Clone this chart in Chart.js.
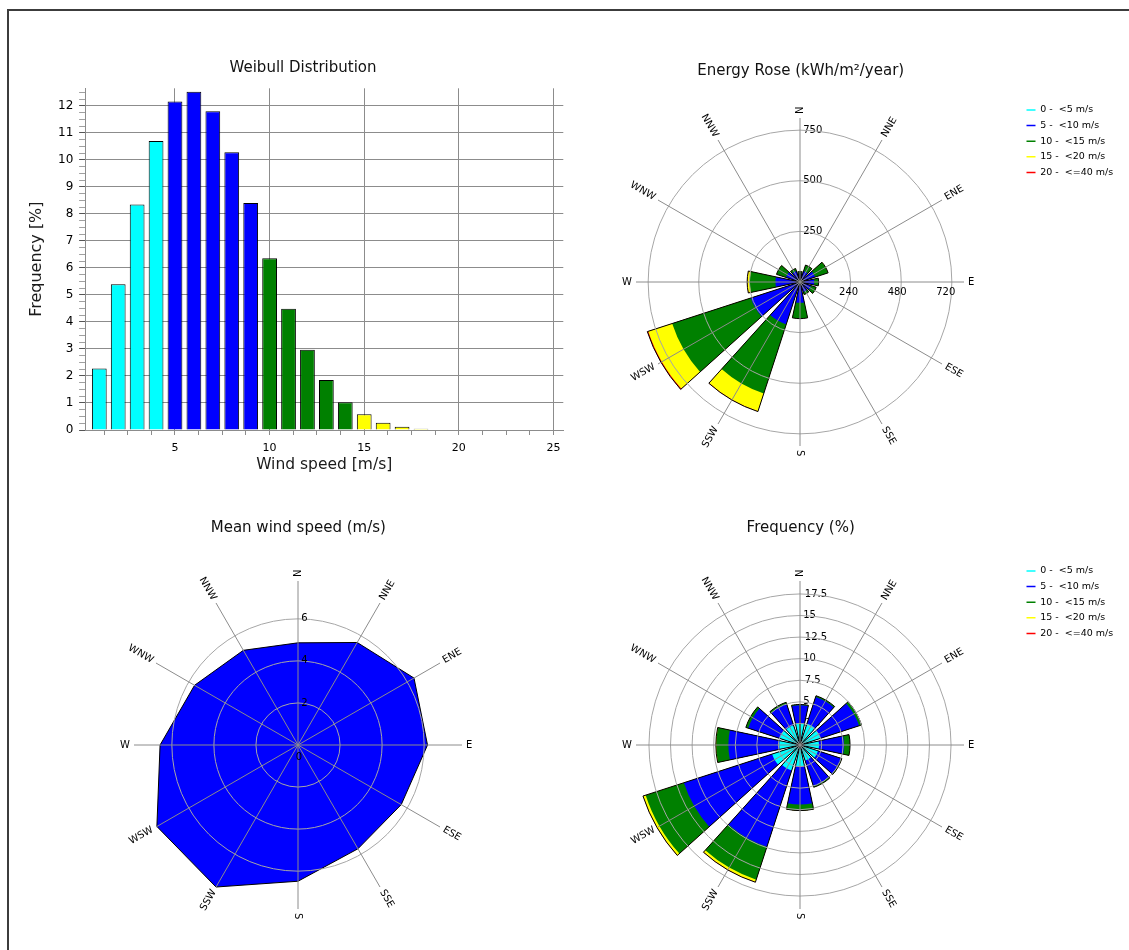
<!DOCTYPE html>
<html>
<head>
<meta charset="utf-8">
<title>Wind resource at site</title>
<script src="https://cdn.jsdelivr.net/npm/chart.js"></script>
<style>
  html, body { margin: 0; padding: 0; background: #fff; overflow: hidden; }
  body { position: relative; width: 1129px; height: 950px; font-family: "DejaVu Sans", sans-serif; }
  .frame { position: absolute; left: 7px; top: 9px; width: 1300px; height: 1100px;
           border-left: 2px solid #3c3c3c; border-top: 2px solid #3c3c3c; }
  canvas { position: absolute; }
</style>
</head>
<body>
<div class="frame"></div>
<canvas id="weibullChart" width="560" height="430" style="left:20px;top:50px"></canvas>
<canvas id="energyChart" width="549" height="420" style="left:580px;top:50px"></canvas>
<canvas id="meanChart" width="560" height="430" style="left:20px;top:510px"></canvas>
<canvas id="freqChart" width="549" height="430" style="left:580px;top:510px"></canvas>

<script>
// ---- DATA ----
const directions = ['N', 'NNE', 'ENE', 'E', 'ESE', 'SSE', 'S', 'SSW', 'WSW', 'W', 'WNW', 'NNW'];
const speedClasses = ['0 -  <5 m/s', '5 -  <10 m/s', '10 -  <15 m/s', '15 -  <20 m/s', '20 -  <=40 m/s'];
const classUpper = [5, 10, 15, 20, 40];

// Weibull histogram (bin centre in m/s, frequency in %)
const weibullSpeed = [1, 2, 3, 4, 5, 6, 7, 8, 9, 10, 11, 12, 13, 14, 15, 16, 17, 18];
const weibullFreq = [2.28, 5.40, 8.35, 10.70, 12.16, 12.52, 11.80, 10.28, 8.40, 6.36, 4.49, 2.97, 1.85, 1.03, 0.58, 0.27, 0.12, 0.05];
const xMajorStep = 5;
const xMinorStep = 1.25;
const yMinorStep = 0.25;

// Energy rose, kWh/m²/year per sector and speed class
const energy0to5 = [4, 4, 4, 3, 3, 3, 4, 6, 7, 5, 4, 3];
const energy5to10 = [35, 53, 74, 67, 54, 49, 99, 214, 248, 116, 69, 54];
const energy10to15 = [13, 31, 67, 22, 27, 13, 78, 359, 409, 127, 49, 13];
const energy15to20 = [0, 0, 1, 0, 0, 0, 0, 92, 124, 12, 0, 0];
const energy20to40 = [0, 0, 0, 0, 0, 0, 0, 2, 5, 1, 0, 0];
const energyRings = [0, 250, 500, 750];
const energyEastLabels = [240, 480, 720];

// Frequency rose, % per sector and speed class
const freq0to5 = [2.5, 2.6, 2.5, 2.2, 2.2, 1.9, 2.5, 3.1, 3.4, 2.4, 2.5, 2.4];
const freq5to10 = [2.1, 3.25, 4.7, 2.9, 2.8, 3.1, 4.4, 9.3, 10.75, 5.9, 3.8, 2.6];
const freq10to15 = [0.1, 0.15, 0.3, 0.7, 0.1, 0.15, 0.7, 4.0, 4.65, 1.4, 0.3, 0.2];
const freq15to20 = [0, 0, 0, 0, 0, 0, 0, 0.3, 0.3, 0.05, 0, 0];
const freq20to40 = [0, 0, 0, 0, 0, 0, 0, 0.02, 0.03, 0, 0, 0];
const freqRings = [0, 2.5, 5, 7.5, 10, 12.5, 15, 17.5];

// Mean wind speed per sector, m/s
const meanSpeed = [4.86, 5.63, 6.37, 6.16, 5.67, 5.70, 6.48, 7.80, 7.75, 6.56, 5.68, 5.20];
const meanRings = [0, 2, 4, 6];

// ---- STYLE ----
Chart.defaults.font.family = '"DejaVu Sans", sans-serif';
Chart.defaults.color = '#000';

const classColors = ['#00ffff', '#0000ff', '#008000', '#ffff00', '#ff0000'];
const GRID = '#8c8c8c';
const RING = '#a6a6a6';
const NONE = 'rgba(0,0,0,0)';

function speedColor(v) {
  return classColors[classUpper.findIndex(u => v < u)];
}

// ---- WEIBULL ----
const xTicks = [];
for (let v = xMinorStep; v <= 25; v += xMinorStep) xTicks.push(v);
const yTicks = [];
for (let v = 0; v <= 12.5; v += yMinorStep) yTicks.push(v);

const isMajorX = c => c.tick && c.tick.value % xMajorStep === 0;
const isMajorY = c => c.tick && Number.isInteger(c.tick.value);

new Chart(document.getElementById('weibullChart'), {
  type: 'bar',
  data: {
    labels: weibullSpeed,
    datasets: [{
      data: weibullFreq,
      backgroundColor: weibullSpeed.map(speedColor),
      borderColor: '#000',
      borderWidth: 1,
      barPercentage: 0.78,
      categoryPercentage: 1,
    }],
  },
  options: {
    responsive: false,
    animation: false,
    // left padding keeps the title centred like the original; the y axis title hangs into it
    layout: { padding: { left: 22.7, right: 16.7, top: 0, bottom: 0 } },
    plugins: {
      legend: { display: false },
      tooltip: { enabled: false },
      title: {
        display: true,
        text: 'Weibull Distribution',
        color: '#111',
        font: { size: 15, weight: 'normal' },
        padding: { top: 9, bottom: 11.3 },
      },
    },
    scales: {
      x: {
        type: 'linear',
        min: 0.25,
        max: 25.52,
        offset: false,
        afterBuildTicks: ax => { ax.ticks = xTicks.map(v => ({ value: v })); },
        afterFit: ax => { ax.height = 50; },
        grid: { offset: false, color: c => isMajorX(c) ? GRID : NONE, tickColor: GRID, tickLength: 5 },
        border: { color: GRID },
        ticks: {
          autoSkip: false, maxRotation: 0, padding: 6.7, color: '#000', font: { size: 11 },
          callback: v => v % xMajorStep === 0 ? v : '',
        },
        title: {
          display: true, text: 'Wind speed [m/s]', color: '#1a1a1a',
          font: { size: 15.5 }, padding: { top: 0, bottom: 5.7 },
        },
      },
      y: {
        min: 0,
        max: 12.65,
        afterBuildTicks: ax => { ax.ticks = yTicks.map(v => ({ value: v })); },
        afterFit: ax => { ax.width = 42.4; },
        grid: { color: c => isMajorY(c) ? GRID : NONE, tickColor: c => isMajorY(c) ? '#555' : '#a0a0a0', tickLength: 6 },
        border: { color: GRID },
        ticks: {
          autoSkip: false, padding: 5.8, color: '#000', font: { size: 12 },
          callback: v => Number.isInteger(v) ? v : '',
        },
        title: {
          display: true, text: 'Frequency [%]', color: '#1a1a1a',
          font: { size: 16 }, padding: { top: -15.3, bottom: 0 },
        },
      },
    },
  },
});

// ---- ROSE HELPERS ----
const sectorWidth = 24;
const sectorGap = 6;
// N sector is split in two halves around 0°, gaps sit between the sectors
const sectorAngles = [sectorWidth / 2];
for (let i = 1; i < directions.length; i++) sectorAngles.push(sectorGap, sectorWidth);
sectorAngles.push(sectorGap, sectorWidth / 2);

function sectorValues(vals) {
  const out = [vals[0]];
  for (let i = 1; i < vals.length; i++) out.push(0, vals[i]);
  out.push(0, vals[0]);
  return out;
}

function roseDatasets(classes) {
  const totals = directions.map(() => 0);
  const stacked = classes.map(vals => {
    vals.forEach((v, i) => { totals[i] += v; });
    return totals.slice();
  });
  const sets = stacked.map((vals, k) => ({
    data: sectorValues(vals),
    angle: sectorAngles,
    backgroundColor: classColors[k],
    borderWidth: 0,
  }));
  // outline on top
  sets.unshift({
    data: sectorValues(totals),
    angle: sectorAngles,
    backgroundColor: NONE,
    borderColor: '#000',
    borderWidth: sectorAngles.map((a, j) => j % 2 ? 0 : 1),
  });
  return sets;
}

function radialScale(max, rings, labelsOnTop) {
  return {
    type: 'radialLinear',
    min: 0,
    max,
    bounds: 'data',
    startAngle: 0,
    labels: directions,
    afterBuildTicks: s => { s.ticks = rings.map(v => ({ value: v })); },
    grid: { circular: true, color: RING, lineWidth: 1, z: 1 },
    angleLines: { display: true, color: GRID, lineWidth: 1 },
    pointLabels: { display: false },
    ticks: {
      z: 0,
      showLabelBackdrop: false,
      // labels drawn over the data are painted in a second pass (see compassLabels)
      color: c => (labelsOnTop && !c.chart.$topPass) ? NONE : '#000',
      font: { size: 10 },
      callback: v => '\u2007'.repeat(String(v).length + 1) + v,
    },
  };
}

// direction names, rotated along the spokes
const compassLabels = {
  id: 'compassLabels',
  afterDraw(chart, args, opts) {
    const r = chart.scales.r;
    const ctx = chart.ctx;
    if (opts.labelsOnTop) {
      chart.$topPass = true;
      r.drawLabels();
      chart.$topPass = false;
    }
    ctx.save();
    ctx.font = '10px "DejaVu Sans"';
    ctx.fillStyle = '#000';
    ctx.textBaseline = 'middle';
    directions.forEach((name, i) => {
      const a = r.getIndexAngle(i);
      const p = r.getPointPosition(i, r.drawingArea + 4);
      ctx.save();
      ctx.translate(p.x, p.y);
      if (a <= Math.PI + 1e-6) {
        ctx.rotate(a - Math.PI / 2);
        ctx.textAlign = 'left';
      } else {
        ctx.rotate(a - 1.5 * Math.PI);
        ctx.textAlign = 'right';
      }
      ctx.fillText(name, 0, 0);
      ctx.restore();
    });
    ctx.textAlign = 'center';
    if (opts.eastValues) {
      const e = directions.indexOf('E');
      opts.eastValues.forEach(v => {
        const p = r.getPointPosition(e, r.getDistanceFromCenterForValue(v));
        ctx.fillText(String(v), p.x, p.y + 10);
      });
    }
    if (opts.centerText) ctx.fillText(opts.centerText, r.xCenter + 1, r.yCenter + 12);
    ctx.restore();
  },
};

const legendItems = () => speedClasses.map((text, i) => ({
  text,
  strokeStyle: classColors[i],
  fillStyle: classColors[i],
  lineWidth: 1.5,
  pointStyle: 'line',
  hidden: false,
}));

function roseChart(id, classes, max, rings, title, lay, extra) {
  return new Chart(document.getElementById(id), {
    type: 'polarArea',
    data: { datasets: roseDatasets(classes) },
    options: {
      responsive: false,
      animation: false,
      layout: { padding: lay.padding },
      plugins: {
        tooltip: { enabled: false },
        title: {
          display: true, text: title, color: '#111', fullSize: false,
          font: { size: 15, weight: 'normal' }, padding: lay.title,
        },
        legend: {
          position: 'right',
          align: 'start',
          maxWidth: 100,
          title: { display: true, text: '', font: { size: 10 }, padding: { top: lay.legendTop, bottom: 0 } },
          labels: {
            usePointStyle: true, pointStyleWidth: 9, padding: 6.1, color: '#000',
            font: { size: 9.5 }, generateLabels: legendItems,
          },
        },
        compassLabels: extra,
      },
      scales: { r: radialScale(max, rings, false) },
    },
    plugins: [compassLabels],
  });
}

// ---- ENERGY ROSE ----
roseChart('energyChart',
  [energy0to5, energy5to10, energy10to15, energy15to20, energy20to40],
  810, energyRings, 'Energy Rose (kWh/m\u00b2/year)',
  { padding: { left: 1, right: 8.6, top: 4, bottom: 15.8 }, title: { top: 7.7, bottom: 31.5 }, legendTop: 33.15 },
  { eastValues: energyEastLabels });

// ---- FREQUENCY ROSE ----
roseChart('freqChart',
  [freq0to5, freq5to10, freq10to15, freq15to20, freq20to40],
  19.0, freqRings, 'Frequency (%)',
  { padding: { left: 1, right: 8.6, top: 4, bottom: 23.5 }, title: { top: 5.3, bottom: 36.2 }, legendTop: 34.15 },
  {});

// ---- MEAN WIND SPEED ----
new Chart(document.getElementById('meanChart'), {
  type: 'radar',
  data: {
    labels: directions,
    datasets: [{
      data: meanSpeed,
      fill: true,
      backgroundColor: '#0000ff',
      borderColor: '#000',
      borderWidth: 1,
      pointRadius: 0,
    }],
  },
  options: {
    responsive: false,
    animation: false,
    layout: { padding: { left: 0, right: 3.4, top: 4, bottom: 23.5 } },
    plugins: {
      legend: { display: false },
      tooltip: { enabled: false },
      title: {
        display: true, text: 'Mean wind speed (m/s)', color: '#111',
        font: { size: 15, weight: 'normal' }, padding: { top: 5.3, bottom: 36.2 },
      },
      compassLabels: { centerText: '0', labelsOnTop: true },
    },
    scales: { r: radialScale(7.8, meanRings, true) },
  },
  plugins: [compassLabels],
});
</script>
</body>
</html>
